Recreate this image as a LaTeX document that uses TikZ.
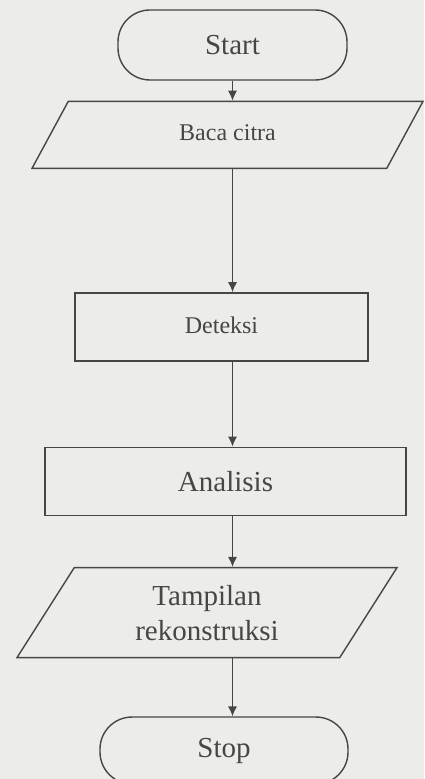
\documentclass[tikz,border=0pt]{standalone}
\usepackage{fontspec}
\setmainfont{Liberation Serif}
\usetikzlibrary{arrows.meta,shapes,positioning}
\definecolor{paper}{RGB}{236,236,233}
\definecolor{ink}{RGB}{70,70,70}

\begin{document}
\begin{tikzpicture}[
    terminal/.style={draw=ink, rectangle, rounded corners=16pt, minimum width=114.5pt, minimum height=35pt, text=ink, font=\fontsize{14.5}{16}\selectfont},
    io/.style={draw=ink, trapezium, trapezium stretches body, text=ink, align=center},
    process/.style={draw=ink, rectangle, minimum height=34pt, text=ink},
    arrow/.style={->, draw=ink, >={Latex[length=5pt,width=4.6pt]}},
    line width=0.7pt
]
    \fill [paper] (0,0) rectangle (212pt,-389.5pt);
    \useasboundingbox (0,0) rectangle (212pt,-389.5pt);

    \node [terminal] (start) at (116.25pt,-22.5pt) {Start};
    \node [io, below=10pt of start, xshift=-2.5pt, trapezium left angle=42.5, trapezium right angle=137.5, minimum width=195.5pt, minimum height=33.5pt, font=\fontsize{12}{14}\selectfont] (baca) {\raisebox{2pt}{Baca citra}};
    \node [process, below=61.5pt of baca, xshift=-3pt, minimum width=146.5pt, font=\fontsize{12}{14}\selectfont] (deteksi) {\raisebox{2pt}{Deteksi}};
    \node [process, below=42.5pt of deteksi, xshift=2pt, minimum width=180.5pt, font=\fontsize{14.5}{16}\selectfont] (analisis) {Analisis};
    \node [io, below=25.5pt of analisis, xshift=-9.25pt, trapezium left angle=50.2, trapezium right angle=129.8, minimum width=190pt, minimum height=45pt, font=\fontsize{14.5}{17.5}\selectfont] (tampilan) {Tampilan\\rekonstruksi};
    \node [terminal, below=29pt of tampilan, xshift=8.5pt, minimum width=124pt, minimum height=33.5pt] (stop) {Stop};

    \draw [arrow] (start.south) -- (start.south |- baca.north);
    \draw [arrow] (start.south |- baca.south) -- (start.south |- deteksi.north);
    \draw [arrow] (start.south |- deteksi.south) -- (start.south |- analisis.north);
    \draw [arrow] (start.south |- analisis.south) -- (start.south |- tampilan.north);
    \draw [arrow] (start.south |- tampilan.south) -- (start.south |- stop.north);

\end{tikzpicture}
\end{document}
